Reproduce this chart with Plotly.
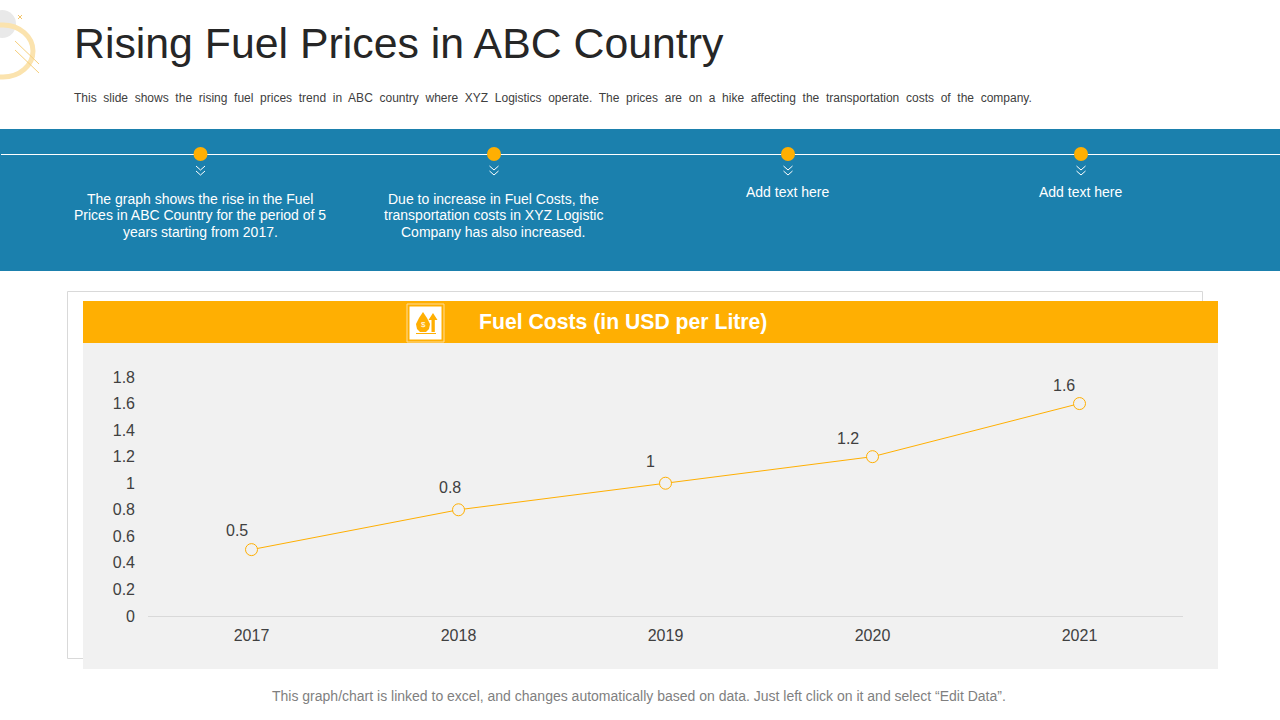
import plotly.graph_objects as go

years = ["2017", "2018", "2019", "2020", "2021"]
fuel_costs = [0.5, 0.8, 1.0, 1.2, 1.6]
value_labels = ["0.5", "0.8", "1", "1.2", "1.6"]
y_ticks = [0, 0.2, 0.4, 0.6, 0.8, 1.0, 1.2, 1.4, 1.6, 1.8]
y_tick_labels = ["0", "0.2", "0.4", "0.6", "0.8", "1", "1.2", "1.4", "1.6", "1.8"]

TITLE = "Rising Fuel Prices in ABC Country"
SUBTITLE = ("This slide shows the rising fuel prices trend in ABC country where XYZ Logistics operate. "
            "The prices are on a hike affecting the transportation costs of the company.")
BANNER_1 = ["The graph shows the rise in the Fuel", "Prices in ABC Country for the period of 5", "years starting from 2017."]
BANNER_2 = ["Due to increase in Fuel Costs, the", "transportation costs in XYZ Logistic", "Company has also increased."]
BANNER_3 = "Add text here"
BANNER_4 = "Add text here"
CHART_TITLE = "Fuel Costs (in USD per Litre)"
FOOTER = "This graph/chart is linked to excel, and changes automatically based on data. Just left click on it and select “Edit Data”."

AMBER = "#FFAF02"
BLUE = "#1B80AD"
PANEL = "#F1F1F1"
W, H = 1280, 720
FONT = "Liberation Sans"


def px(x):
    return x / W


def py(y):
    return 1 - y / H


def rect(x0, y0, x1, y1, fill, line=None, lw=0):
    return dict(type="rect", xref="paper", yref="paper", x0=px(x0), x1=px(x1), y0=py(y1), y1=py(y0),
                fillcolor=fill, line=dict(color=line or fill, width=lw), layer="below")


def seg(x0, y0, x1, y1, color, lw=1, layer="below"):
    return dict(type="line", xref="paper", yref="paper", x0=px(x0), x1=px(x1), y0=py(y0), y1=py(y1),
                line=dict(color=color, width=lw), layer=layer)


def disc(cx, cy, r, fill, line=None, lw=0, layer="below"):
    return dict(type="circle", xref="paper", yref="paper", x0=px(cx - r), x1=px(cx + r),
                y0=py(cy + r), y1=py(cy - r), fillcolor=fill,
                line=dict(color=line or fill, width=lw), layer=layer)


def poly(points, fill, layer="above"):
    d = "M " + " L ".join(f"{px(x):.5f},{py(y):.5f}" for x, y in points) + " Z"
    return dict(type="path", xref="paper", yref="paper", path=d, fillcolor=fill,
                line=dict(width=0, color=fill), layer=layer)


shapes = [
    # corner decoration
    disc(2, 24, 14, "#E9E9E9"),
    dict(type="circle", xref="paper", yref="paper", x0=px(-27), x1=px(33), y0=py(77), y1=py(25),
         fillcolor="rgba(0,0,0,0)", line=dict(color="#FBE3AE", width=5), layer="below"),
    seg(15, 41, 39, 64, "#F6CF7C", 1),
    seg(15, 50, 39, 73, "#F6CF7C", 1),
    seg(18, 15, 22, 19, "#F3C469", 1),
    seg(22, 15, 18, 19, "#F3C469", 1),
    # banner
    rect(0, 129, 1280, 271, BLUE),
    seg(1, 154.5, 1280, 154.5, "#FFFFFF", 1),
    # chart frame and panel
    rect(67.5, 291.5, 1202.5, 658.5, "#FFFFFF", "#D9D9D9", 1),
    rect(83, 343, 1218, 669, PANEL),
    rect(83, 301, 1218, 343, AMBER),
    # icon tile
    rect(407, 304, 444, 342, AMBER, "#FFDD99", 1),
    rect(409.5, 306.5, 441.5, 339.5, "#FFFFFF"),
    poly([(423, 312), (427, 318), (430, 324), (429, 329), (426, 332), (420, 332), (417, 329),
          (416, 324), (419, 318)], AMBER),
    poly([(433, 313), (437.5, 320), (434.8, 320), (434.8, 332), (431.5, 332), (431.5, 320), (428.5, 320)], AMBER),
    seg(416, 333.5, 436, 333.5, AMBER, 1, "above"),
]

for cx in [200.5, 494, 788, 1081]:
    shapes.append(disc(cx, 154, 7, AMBER))
    for top in [166, 171]:
        shapes.append(seg(cx - 4.5, top, cx, top + 4, "#FFFFFF", 1))
        shapes.append(seg(cx, top + 4, cx + 4.5, top, "#FFFFFF", 1))


def note(x, y, text, size, color, anchor="center", yanchor="middle", bold=False, align="center"):
    return dict(xref="paper", yref="paper", x=px(x), y=py(y), text=f"<b>{text}</b>" if bold else text,
                showarrow=False, xanchor=anchor, yanchor=yanchor, align=align,
                font=dict(family=FONT, size=size, color=color))


annotations = [
    note(72, 43, TITLE, 42.8, "#262626", "left"),
    note(72, 98, SUBTITLE.replace(" ", "\u00a0 "), 12, "#404040", "left"),
    note(787.5, 192, BANNER_3, 14, "#FFFFFF"),
    note(1080.5, 192, BANNER_4, 14, "#FFFFFF"),
    note(622.5, 322, CHART_TITLE, 21.2, "#FFFFFF", bold=True),
    note(639, 696, FOOTER, 14, "#7F7F7F"),
    note(423, 325, "$", 8, "#FFFFFF"),
]
for line, y in zip(BANNER_1, [199, 215.5, 232]):
    annotations.append(note(200, y, line, 14, "#FFFFFF"))
for line, y in zip(BANNER_2, [199, 215.5, 232]):
    annotations.append(note(493, y, line, 14, "#FFFFFF"))

label_dx = [-15, -9, -15, -25, -16]
label_dy = [19, 22, 22, 18, 18]
for i, (v, t, dx, dy) in enumerate(zip(fuel_costs, value_labels, label_dx, label_dy)):
    annotations.append(dict(x=i, y=v, xref="x", yref="y", text=t, showarrow=False,
                            xshift=dx, yshift=dy, font=dict(family=FONT, size=16, color="#404040")))

fig = go.Figure(go.Scatter(
    x=years, y=fuel_costs, mode="lines+markers", cliponaxis=False,
    line=dict(color=AMBER, width=1),
    marker=dict(size=12, color=PANEL, line=dict(color=AMBER, width=1)),
    hoverinfo="x+y",
))

fig.update_layout(
    width=W, height=H, margin=dict(l=0, r=0, t=0, b=0),
    paper_bgcolor="#FFFFFF", plot_bgcolor="rgba(0,0,0,0)", showlegend=False,
    font=dict(family=FONT, size=16, color="#404040"),
    shapes=shapes, annotations=annotations,
    xaxis=dict(domain=[px(148), px(1183)], type="category", range=[-0.5, 4.5], automargin=False,
               showgrid=False, showline=True, linecolor="#D9D9D9", linewidth=1,
               ticks="", ticklabelstandoff=5, zeroline=False),
    yaxis=dict(domain=[py(616), py(377)], range=[0, 1.8], tickvals=y_ticks, ticktext=y_tick_labels,
               automargin=False, showgrid=False, showline=False, ticks="", zeroline=False,
               ticklabelstandoff=12),
)

fig.write_html("out.html", config={"displayModeBar": False}, post_script="document.body.style.margin='0';")
